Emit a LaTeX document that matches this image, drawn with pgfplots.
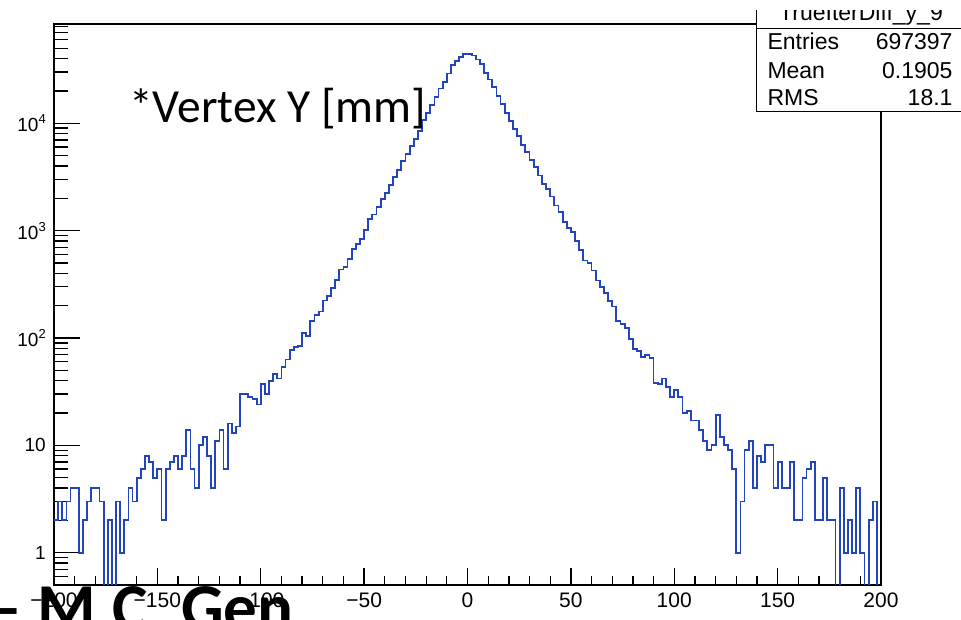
\documentclass[border=0pt]{standalone}
\usepackage{fontspec}
\setmainfont{Liberation Sans}
\newfontfamily\carlito{Carlito}
\usepackage{pgfplots}
\pgfplotsset{compat=1.18}
\usepackage{pgfplotstable}
\definecolor{histblue}{RGB}{34,68,190}

% bin left edges (2 mm bins) and counts; empty bins written as 0.01 (below the axis)
\pgfplotstableread{
x y
-200 2
-198 3
-196 2
-194 3
-192 4
-190 4
-188 1
-186 2
-184 3
-182 4
-180 4
-178 3
-176 0.01
-174 2
-172 0.01
-170 3
-168 1
-166 2
-164 4
-162 3
-160 5
-158 6
-156 8
-154 7
-152 5
-150 6
-148 2
-146 6
-144 7
-142 8
-140 6
-138 8
-136 14
-134 6
-132 4
-130 10
-128 12
-126 8
-124 4
-122 11
-120 14
-118 6
-116 16
-114 13
-112 15
-110 30
-108 30
-106 28
-104 27
-102 24
-100 37
-98 30
-96 40
-94 46
-92 42
-90 54
-88 63
-86 77
-84 82
-82 84
-80 111
-78 105
-76 145
-74 164
-72 176
-70 223
-68 248
-66 290
-64 345
-62 435
-60 455
-58 546
-56 676
-54 753
-52 838
-50 1016
-48 1288
-46 1413
-44 1653
-42 1980
-40 2254
-38 2637
-36 3150
-34 3636
-32 4440
-30 5200
-28 6090
-26 7180
-24 8400
-22 10640
-20 12450
-18 14690
-16 17540
-14 21030
-12 24210
-10 29030
-8 34680
-6 38030
-4 41480
-2 43960
0 43960
2 42700
4 39200
6 35400
8 29380
10 25500
12 21780
14 18080
16 15000
18 12450
20 10490
22 8910
24 7550
26 6310
28 5380
30 4570
32 3905
34 3265
36 2735
38 2455
40 2080
42 1714
44 1485
46 1198
48 1062
50 966
52 796
54 662
56 526
58 497
60 425
62 343
64 297
66 261
68 219
70 196
72 145
74 135
76 123
78 98
80 79
82 75
84 67
86 69
88 65
90 38
92 37
94 42
96 35
98 28
100 33
102 28
104 20
106 21
108 17
110 17
112 14
114 11
116 9
118 10
120 19
122 12
124 10
126 9
128 6
130 1
132 3
134 9
136 11
138 4
140 8
142 7
144 10
146 10
148 4
150 7
152 4
154 4
156 7
158 2
160 2
162 5
164 6
166 7
168 2
170 2
172 5
174 2
176 2
178 0.01
180 4
182 1
184 2
186 1
188 4
190 1
192 0.01
194 2
196 3
198 0.01
200 0.01
}\histdata

\newcommand{\rsup}[1]{\raisebox{0.42em}{\fontsize{13}{13}\selectfont #1}}

\begin{document}
\begin{tikzpicture}[x=1pt,y=1pt]
\useasboundingbox (0,0) rectangle (961,620);
\clip (0,0) rectangle (961,620);
\begin{axis}[
  at={(54pt,35pt)}, anchor=south west,
  width=827pt, height=561pt, scale only axis,
  xmin=-200, xmax=200,
  ymode=log, ymin=0.5, ymax=84000,
  axis line style={black, line width=1.3pt},
  tick pos=left, tick align=inside,
  xtick={-200,-150,...,200},
  xticklabels={−200,−150,−100,−50,0,50,100,150,200},
  minor xtick={-190,-180,...,190},
  ytick={1,10,100,1000,10000},
  yticklabels={1,10,10\rsup{2},10\rsup{3},10\rsup{4}},
  minor ytick={0.6,0.7,0.8,0.9,2,3,4,5,6,7,8,9,20,30,40,50,60,70,80,90,200,300,400,500,600,700,800,900,2000,3000,4000,5000,6000,7000,8000,9000,20000,30000,40000,50000,60000,70000,80000},
  major x tick style={black, line width=1.3pt, /pgfplots/major tick length=17pt},
  minor x tick style={black, line width=1.3pt, /pgfplots/minor tick length=9pt},
  major y tick style={black, line width=1.3pt, /pgfplots/major tick length=26pt},
  minor y tick style={black, line width=1.3pt, /pgfplots/minor tick length=14pt},
  xticklabel style={font=\fontsize{21}{21}\selectfont, inner sep=0pt, anchor=north, yshift=-8pt},
  yticklabel style={font=\fontsize{19}{19}\selectfont, inner sep=0pt, anchor=east, xshift=-8pt},
  /pgf/number format/assume math mode=true,
]
\addplot[const plot, histblue, line width=1.8pt] table[x=x, y=y] {\histdata};
\end{axis}
% statistics box (ROOT style)
\fill[white] (756.7,508.3) rectangle (980,640);
\draw[line width=1.3pt] (756.7,640) -- (756.7,508.3) -- (980,508.3);
\draw[line width=1.3pt] (756.7,591.7) -- (980,591.7);
\node[anchor=base, inner sep=0pt, font=\fontsize{23}{23}\selectfont] at (861,599.3) {TrueIterDiff\_y\_9};
% the top of the title is covered in the reference
\fill[white] (700,609.5) rectangle (980,640);
\begin{scope}[every node/.style={inner sep=0pt, font=\fontsize{23}{23}\selectfont}]
\node[anchor=base west] at (767.3,570) {Entries};
\node[anchor=base east] at (952.7,570) {697397};
\node[anchor=base west] at (767.3,541.7) {Mean};
\node[anchor=base east] at (952.7,541.7) {0.1905};
\node[anchor=base west] at (767.3,514) {RMS};
\node[anchor=base east] at (952.7,514) {18.1};
\end{scope}
% overlaid annotations
\node[anchor=base west, inner sep=0pt, font=\carlito\fontsize{47.5}{47.5}\selectfont] at (129,497) {*Vertex Y [mm]};
\node[anchor=base west, inner sep=0pt, font=\carlito\bfseries\fontsize{67}{67}\selectfont] at (-11.4,-11) {– M.C. Gen};
\end{tikzpicture}
\end{document}
